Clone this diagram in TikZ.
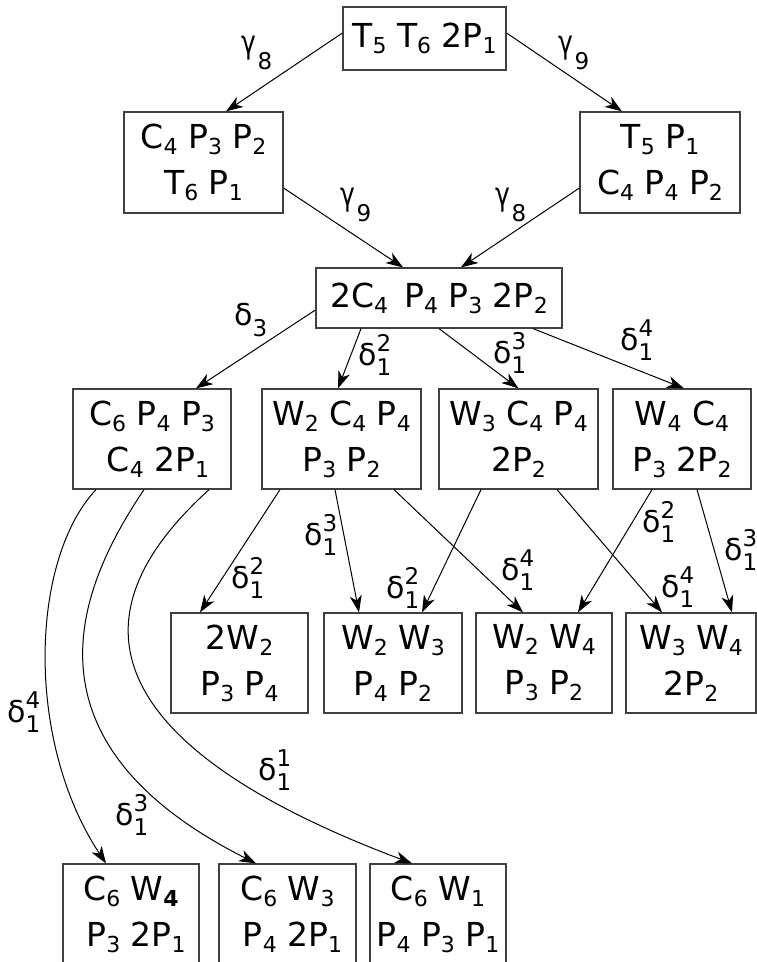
\documentclass[tikz,border=0pt]{standalone}
\usepackage{fontspec}
\setmainfont{DejaVu Sans}
\usetikzlibrary{arrows.meta}
\newcommand\sbs[1]{\raisebox{-6pt}{\fontsize{22}{22}\selectfont #1}}
\newcommand\glab[2]{\scalebox{0.78}[1]{\fontsize{32}{32}\selectfont #1}\,\raisebox{-16pt}{\fontsize{23}{23}\selectfont #2}}
\newcommand\dsub[2]{{\fontsize{30}{30}\selectfont #1}\raisebox{-11pt}{\fontsize{23}{23}\selectfont #2}}
\newcommand\dlab[2]{{\fontsize{30}{30}\selectfont δ}\makebox[0pt][l]{\raisebox{14pt}{\fontsize{23}{23}\selectfont #2}}\raisebox{-10pt}{\fontsize{23}{23}\selectfont 1}}
\tikzset{
  box/.style={draw=black!75, line width=1.2pt, inner sep=0pt, align=center,
    font=\fontsize{33}{46}\selectfont},
  arr/.style={-{Stealth[length=17pt,width=12pt,inset=5pt]}, line width=1pt},
  lbl/.style={anchor=base west, inner sep=0pt}
}
\begin{document}
\begin{tikzpicture}[x=1pt,y=-1pt]
\useasboundingbox (0,0) rectangle (757,962);
% nodes
\node[box, minimum width=163pt, minimum height=63pt] (top) at (424.5,38.5) {T\sbs{5} T\sbs{6} 2P\sbs{1}};
\node[box, minimum width=159pt, minimum height=101pt] (L1) at (203.5,162.5) {C\sbs{4} P\sbs{3} P\sbs{2}\\T\sbs{6} P\sbs{1}};
\node[box, minimum width=160pt, minimum height=101pt] (R1) at (660,162.5) {T\sbs{5} P\sbs{1}\\C\sbs{4} P\sbs{4} P\sbs{2}};
\node[box, minimum width=246pt, minimum height=60pt] (M) at (439,298) {2C\sbs{4}\, P\sbs{4} P\sbs{3} 2P\sbs{2}};
\node[box, minimum width=158pt, minimum height=100pt] (A) at (152,439) {C\sbs{6} P\sbs{4} P\sbs{3}\\\hspace{12pt}C\sbs{4} 2P\sbs{1}};
\node[box, minimum width=159pt, minimum height=100pt] (B) at (341.5,439) {W\sbs{2} C\sbs{4} P\sbs{4}\\P\sbs{3} P\sbs{2}};
\node[box, minimum width=159pt, minimum height=100pt] (C) at (518.5,439) {W\sbs{3} C\sbs{4} P\sbs{4}\\2P\sbs{2}};
\node[box, minimum width=138pt, minimum height=100pt] (D) at (682,439) {W\sbs{4} C\sbs{4}\\P\sbs{3} 2P\sbs{2}};
\node[box, minimum width=137pt, minimum height=100pt] (E) at (239.5,663) {2W\sbs{2}\\P\sbs{3} P\sbs{4}};
\node[box, minimum width=138pt, minimum height=100pt] (F) at (393,663) {W\sbs{2} W\sbs{3}\\P\sbs{4} P\sbs{2}};
\node[box, minimum width=136pt, minimum height=100pt] (G) at (544,663) {W\sbs{2} W\sbs{4}\\P\sbs{3} P\sbs{2}};
\node[box, minimum width=130pt, minimum height=100pt] (H) at (691,663) {W\sbs{3} W\sbs{4}\\2P\sbs{2}};
\node[box, minimum width=136pt, minimum height=100pt] (I) at (131,914) {C\sbs{6} W\sbs{\textbf{4}}\\\hspace{10pt}P\sbs{3} 2P\sbs{1}};
\node[box, minimum width=137pt, minimum height=100pt] (J) at (287.5,914) {C\sbs{6} W\sbs{3}\\\hspace{10pt}P\sbs{4} 2P\sbs{1}};
\node[box, minimum width=136pt, minimum height=100pt] (K) at (438,914) {C\sbs{6} W\sbs{1}\\P\sbs{4} P\sbs{3} P\sbs{1}};
% connectors
\draw[arr] ([yshift=5.5pt]top.west) -- ([xshift=22.5pt]L1.north);
\draw[arr] ([yshift=5.5pt]top.east) -- ([xshift=-38pt]R1.north);
\draw[arr] ([yshift=-25.5pt]L1.east) -- ([xshift=-36pt]M.north);
\draw[arr] ([yshift=-25.5pt]R1.west) -- ([xshift=22pt]M.north);
\draw[arr] ([yshift=-12pt]M.west) -- ([xshift=44pt]A.north);
\draw[arr] ([xshift=-78pt]M.south) -- ([xshift=-3.5pt]B.north);
\draw[arr] (M.south) -- (C.north);
\draw[arr] ([xshift=94pt]M.south) -- ([xshift=2pt]D.north);
\draw[arr] ([xshift=-61.5pt]B.south) -- ([xshift=-39.5pt]E.north);
\draw[arr] ([xshift=-6.5pt]B.south) -- ([xshift=-34pt]F.north);
\draw[arr] ([xshift=52.5pt]B.south) -- ([xshift=-21pt]G.north);
\draw[arr] ([xshift=-37.5pt]C.south) -- ([xshift=29pt]F.north);
\draw[arr] ([xshift=38.5pt]C.south) -- ([xshift=-29pt]H.north);
\draw[arr] ([xshift=-30pt]D.south) -- ([xshift=34pt]G.north);
\draw[arr] ([xshift=15pt]D.south) -- ([xshift=41pt]H.north);
\draw[arr] ([xshift=-56pt]A.south) .. controls (30,560) and (25,741) .. ([xshift=-25pt]I.north);
\draw[arr] ([xshift=-8pt]A.south) .. controls (84,579) and (7,738) .. ([xshift=-31.5pt]J.north);
\draw[arr] ([xshift=57pt]A.south) .. controls (139,554) and (1,709) .. ([xshift=-26pt]K.north);
% labels
\node[lbl] (g1) at (241,53) {\glab{γ}{8}};
\node[lbl] (g2) at (558,53) {\glab{γ}{9}};
\node[lbl] (g3) at (340,205) {\glab{γ}{9}};
\node[lbl] (g4) at (495,205) {\glab{γ}{8}};
\node[lbl] (d3) at (234,325) {\dsub{δ}{3}};
\node[lbl] (l1) at (358,365) {\dlab{δ}{2}};
\node[lbl] (l2) at (493,363) {\dlab{δ}{3}};
\node[lbl] (l3) at (620,350) {\dlab{δ}{4}};
\node[lbl] (l4) at (231,588) {\dlab{δ}{2}};
\node[lbl] (l5) at (304,545) {\dlab{δ}{3}};
\node[lbl] (l6) at (386,598) {\dlab{δ}{2}};
\node[lbl] (l7) at (501,580) {\dlab{δ}{4}};
\node[lbl] (l8) at (642,532) {\dlab{δ}{2}};
\node[lbl] (l9) at (661,597) {\dlab{δ}{4}};
\node[lbl] (l10) at (724,560) {\dlab{δ}{3}};
\node[lbl] (l11) at (7,722) {\dlab{δ}{4}};
\node[lbl] (l12) at (115,825) {\dlab{δ}{3}};
\node[lbl] (l13) at (258,780) {\dlab{δ}{1}};
\end{tikzpicture}
\end{document}
